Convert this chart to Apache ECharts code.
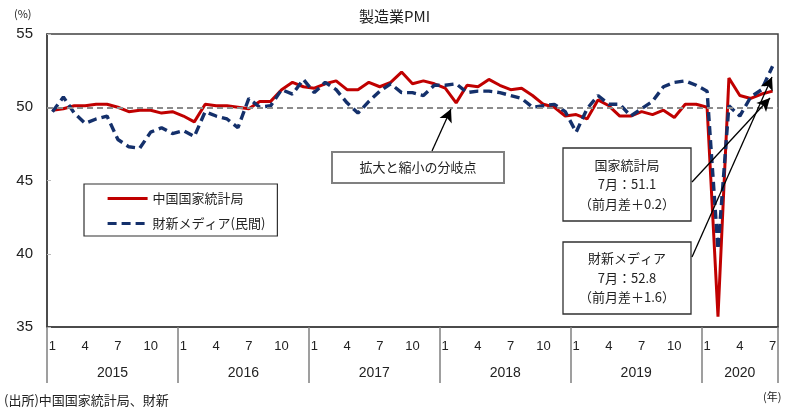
<!DOCTYPE html>
<html><head><meta charset="utf-8">
<script src="https://cdn.jsdelivr.net/npm/echarts@6/dist/echarts.min.js"></script>
<style>html,body{margin:0;padding:0;background:#fff}#c{width:800px;height:415px}</style>
</head><body><div id="c"></div>
<script>
const years = ['2015','2016','2017','2018','2019','2020'];
const monthsPerYear = [12,12,12,12,12,7];
const nbsName = '中国国家統計局';
const caixinName = '財新メディア(民間)';
const nbs = [
  49.8,49.9,50.1,50.1,50.2,50.2,50.0,49.7,49.8,49.8,49.6,49.7,
  49.4,49.0,50.2,50.1,50.1,50.0,49.9,50.4,50.4,51.2,51.7,51.4,
  51.3,51.6,51.8,51.2,51.2,51.7,51.4,51.7,52.4,51.6,51.8,51.6,
  51.3,50.3,51.5,51.4,51.9,51.5,51.2,51.3,50.8,50.2,50.0,49.4,
  49.5,49.2,50.5,50.1,49.4,49.4,49.7,49.5,49.8,49.3,50.2,50.2,
  50.0,35.7,52.0,50.8,50.6,50.9,51.1
];
const caixin = [
  49.7,50.7,49.6,48.9,49.2,49.4,47.8,47.3,47.2,48.3,48.6,48.2,
  48.4,48.0,49.7,49.4,49.2,48.6,50.6,50.0,50.1,51.2,50.9,51.9,
  51.0,51.7,51.2,50.3,49.6,50.4,51.1,51.6,51.0,51.0,50.8,51.5,
  51.5,51.6,51.0,51.1,51.1,51.0,50.8,50.6,50.0,50.1,50.2,49.7,
  48.3,49.9,50.8,50.2,50.2,49.4,49.9,50.4,51.4,51.7,51.8,51.5,
  51.1,40.3,50.1,49.4,50.7,51.2,52.8
];
const yMin = 35, yMax = 55, yStep = 5;
const threshold = 50;

// categories like "2015-1"
const categories = [];
years.forEach((y, i) => { for (let m = 1; m <= monthsPerYear[i]; m++) categories.push(y + '-' + m); });
const total = categories.length;
const yearBounds = [0];
monthsPerYear.forEach(n => yearBounds.push(yearBounds[yearBounds.length - 1] + n));
const yearMids = years.map((y, i) => (yearBounds[i] + yearBounds[i + 1]) / 2);

const FONT = "'Liberation Sans', 'Noto Sans CJK JP', sans-serif";
const JFONT = "'Noto Sans CJK JP', 'Liberation Sans', sans-serif";

const chart = echarts.init(document.getElementById('c'), null, {renderer: 'canvas'});

function box(x, y, w, h, lines, lineH, color, bw) {
  const children = [{
    type: 'rect', shape: {x: 0, y: 0, width: w, height: h},
    style: {fill: '#fff', stroke: color, lineWidth: bw}
  }];
  const startY = h / 2 - (lines.length - 1) * lineH / 2;
  lines.forEach((t, i) => children.push({
    type: 'text', x: w / 2, y: startY + i * lineH,
    style: {text: t, fill: '#222', font: '13px ' + JFONT, align: 'center', verticalAlign: 'middle'}
  }));
  return {type: 'group', x: x, y: y, z: 50, children: children};
}

const option = {
  animation: false,
  backgroundColor: '#fff',
  title: {
    text: '製造業PMI', left: 354, top: 4,
    textStyle: {fontFamily: JFONT, fontSize: 15, fontWeight: 'normal', color: '#222'}
  },
  grid: {left: 47, right: 22, top: 34, bottom: 88, show: true, borderColor: '#404040', borderWidth: 1.5, containLabel: false},
  legend: {
    left: 84, top: 184, orient: 'vertical',
    borderColor: '#303030', borderWidth: 1.2,
    padding: [8, 12, 6, 22], itemGap: 12,
    itemWidth: 40, itemHeight: 14,
    itemStyle: {opacity: 0},
    lineStyle: {width: 3.2},
    textStyle: {fontFamily: JFONT, fontSize: 13, color: '#222'},
    data: [nbsName, caixinName]
  },
  xAxis: [{
    type: 'category', data: categories, boundaryGap: true,
    axisLine: {show: true, lineStyle: {color: '#404040', width: 1.5}},
    axisTick: {show: false},
    axisLabel: {
      interval: (idx) => idx % 3 === 0,
      formatter: (v) => v.split('-')[1],
      margin: 13, fontFamily: FONT, fontSize: 13, color: '#222'
    },
    splitLine: {show: false}
  }, {
    type: 'value', min: 0, max: total, position: 'bottom', gridIndex: 0,
    axisLine: {show: false},
    axisTick: {show: true, customValues: yearBounds, length: 56, lineStyle: {color: '#808080', width: 1.5}},
    axisLabel: {
      customValues: yearMids,
      formatter: (v) => years[yearMids.indexOf(v)] || '',
      margin: 39, fontFamily: FONT, fontSize: 14, color: '#222'
    },
    splitLine: {show: false}
  }],
  yAxis: {
    type: 'value', min: yMin, max: yMax, interval: yStep,
    axisLine: {show: true, lineStyle: {color: '#404040', width: 1.5}},
    axisTick: {show: true, inside: true, length: 4, lineStyle: {color: '#bbb'}},
    axisLabel: {margin: 14, fontFamily: FONT, fontSize: 15, color: '#222'},
    splitLine: {show: false}
  },
  series: [{
    name: nbsName, type: 'line', data: nbs, symbol: 'none', z: 3,
    lineStyle: {color: '#c00000', width: 3},
    itemStyle: {color: '#c00000'},
    markLine: {
      silent: true, symbol: ['none', 'none'], z: 5,
      label: {show: false},
      lineStyle: {color: '#8c8c8c', width: 2, type: [6, 4]},
      data: [{yAxis: threshold}]
    }
  }, {
    name: caixinName, type: 'line', data: caixin, symbol: 'none', z: 4,
    lineStyle: {color: '#14306b', width: 3.4, type: [9, 5]},
    itemStyle: {color: '#14306b'},
    markLine: {
      silent: true, symbol: ['none', 'arrow'], symbolSize: [10, 13], z: 60,
      label: {show: false},
      lineStyle: {color: '#000', width: 1.3, type: 'solid'},
      data: [
        [{x: 432, y: 151}, {x: 451, y: 109}],
        [{x: 692, y: 182}, {x: 770, y: 98}],
        [{x: 692, y: 257}, {x: 772, y: 77}]
      ]
    }
  }],
  graphic: [
    box(332, 152, 172, 31, ['拡大と縮小の分岐点'], 19, '#808080', 2),
    box(563, 148, 128, 73, ['国家統計局', '7月：51.1', '（前月差＋0.2）'], 19.5, '#303030', 1.3),
    box(563, 242, 128, 72, ['財新メディア', '7月：52.8', '（前月差＋1.6）'], 19.5, '#303030', 1.3),
    {type: 'text', x: 14, y: 8, style: {text: '(%)', font: '11px ' + JFONT, fill: '#222'}},
    {type: 'text', x: 763, y: 391, style: {text: '(年)', font: '11px ' + JFONT, fill: '#222'}},
    {type: 'text', x: 4, y: 394, style: {text: '(出所)中国国家統計局、財新', font: '13px ' + JFONT, fill: '#222'}}
  ]
};
chart.setOption(option);
</script></body></html>
